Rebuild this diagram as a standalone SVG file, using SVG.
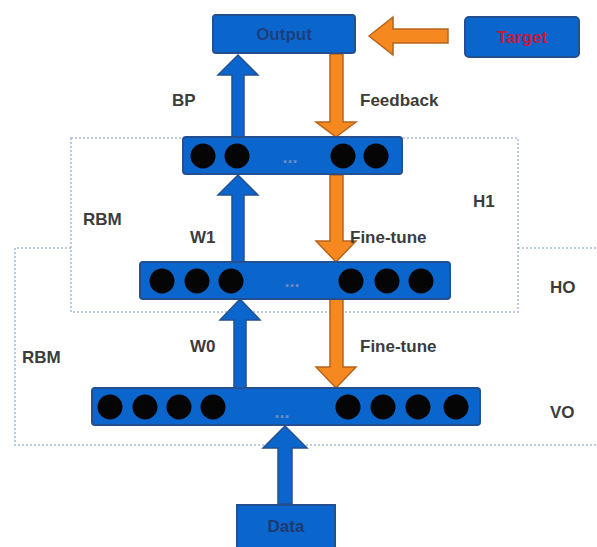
<svg xmlns="http://www.w3.org/2000/svg" width="597" height="547" viewBox="0 0 597 547">
<style>
.bg{fill:#ffffff}
.region{fill:none;stroke:#a8bde0;stroke-width:1.6;stroke-dasharray:2 2}
.box{fill:#0a66cc;stroke:#24508f;stroke-width:2}
.unit{fill:#050505}
.dots{font-family:"Liberation Sans",Arial,sans-serif;font-size:18px;font-weight:bold;fill:#6a8cc0;text-anchor:middle}
.lbl{font-family:"Liberation Sans",Arial,sans-serif;font-size:17px;font-weight:bold;fill:#3c3c3c}
.blue-arrow{fill:#0a66cc;stroke:#24508f;stroke-width:1.5}
.orange-arrow{fill:#f5891f;stroke:#b7631c;stroke-width:1.5}
.title{font-family:"Liberation Sans",Arial,sans-serif;font-size:17px;font-weight:bold;text-anchor:middle}
</style>
<rect class="bg" x="0" y="0" width="597" height="547"/>

<g id="regions">
<rect id="region-h1" class="region" x="71" y="138" width="447" height="174"/>
<path id="region-h0" class="region" d="M71,248 L15,248 L15,445 L597,445 M518,248 L597,248"/>
</g>

<g id="connectors">
<polygon class="blue-arrow" points="238,55 258,75 244,75 244,137 232,137 232,75 218,75"/>
<polygon class="blue-arrow" points="238,175 258,195 244,195 244,262 232,262 232,195 218,195"/>
<polygon class="blue-arrow" points="240,299 260,320 246,320 246,388 234,388 234,320 220,320"/>
<polygon class="blue-arrow" points="285,426 307,448 292,448 292,504 278,504 278,448 263,448"/>
<polygon class="orange-arrow" points="336,137 356,122 343,122 343,54 330,54 330,122 316,122"/>
<polygon class="orange-arrow" points="336,262 356,241 343,241 343,175 330,175 330,241 316,241"/>
<polygon class="orange-arrow" points="336,388 356,367 343,367 343,299 330,299 330,367 316,367"/>
<polygon class="orange-arrow" points="369,36 393,17 393,29 448,29 448,43 393,43 393,55"/>
</g>

<g id="output">
<rect class="box" x="213" y="15" width="142" height="38" rx="3"/>
<text class="title" x="284" y="40" fill="#1d3f80">Output</text>
</g>

<g id="target">
<rect class="box" x="465" y="17" width="114" height="40" rx="4"/>
<text class="title" x="522" y="43" fill="#c8173c">Target</text>
</g>

<g id="layer-h1">
<rect class="box" x="183" y="137" width="219" height="37" rx="3"/>
<circle class="unit" cx="203" cy="156" r="12.5"/>
<circle class="unit" cx="237" cy="156" r="12.5"/>
<circle class="unit" cx="343" cy="156" r="12.5"/>
<circle class="unit" cx="376" cy="156" r="12.5"/>
<text class="dots" x="290" y="163">...</text>
</g>

<g id="layer-h0">
<rect class="box" x="140" y="262" width="310" height="37" rx="3"/>
<circle class="unit" cx="162" cy="281" r="12.5"/>
<circle class="unit" cx="197" cy="281" r="12.5"/>
<circle class="unit" cx="231" cy="281" r="12.5"/>
<circle class="unit" cx="351" cy="281" r="12.5"/>
<circle class="unit" cx="387" cy="281" r="12.5"/>
<circle class="unit" cx="421" cy="281" r="12.5"/>
<text class="dots" x="292" y="287">...</text>
</g>

<g id="layer-v0">
<rect class="box" x="92" y="388" width="388" height="37" rx="3"/>
<circle class="unit" cx="110" cy="407" r="12.5"/>
<circle class="unit" cx="145" cy="407" r="12.5"/>
<circle class="unit" cx="179" cy="407" r="12.5"/>
<circle class="unit" cx="213" cy="407" r="12.5"/>
<circle class="unit" cx="348" cy="407" r="12.5"/>
<circle class="unit" cx="383" cy="407" r="12.5"/>
<circle class="unit" cx="418" cy="407" r="12.5"/>
<circle class="unit" cx="456" cy="407" r="12.5"/>
<text class="dots" x="282" y="418">...</text>
</g>

<g id="data">
<rect class="box" x="237" y="505" width="98" height="44"/>
<text class="title" x="286" y="532" fill="#1d3a70">Data</text>
</g>

<g id="labels">
<text class="lbl" x="172" y="106">BP</text>
<text class="lbl" x="360" y="106">Feedback</text>
<text class="lbl" x="83" y="225">RBM</text>
<text class="lbl" x="190" y="243">W1</text>
<text class="lbl" x="350" y="243">Fine-tune</text>
<text class="lbl" x="473" y="207">H1</text>
<text class="lbl" x="550" y="293">HO</text>
<text class="lbl" x="22" y="363">RBM</text>
<text class="lbl" x="190" y="352">W0</text>
<text class="lbl" x="360" y="352">Fine-tune</text>
<text class="lbl" x="550" y="418">VO</text>
</g>
</svg>
